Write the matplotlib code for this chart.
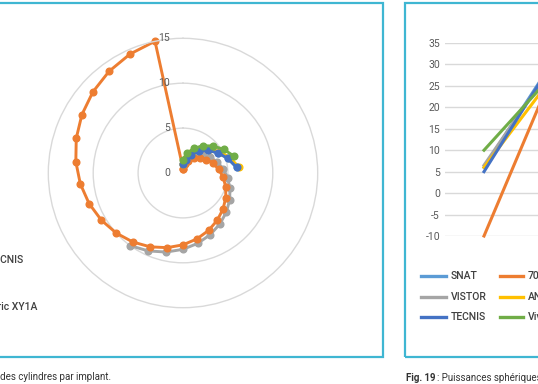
import numpy as np
import matplotlib
matplotlib.use('Agg')
import matplotlib.pyplot as plt
from matplotlib.lines import Line2D
from matplotlib.patches import Rectangle

W, H = 538, 384
plt.rcParams['font.family'] = ['Roboto', 'DejaVu Sans']

# ---------------- data ----------------
n_categories = 30
polar_names = ["SNAT", "709M", "VISTOR", "ANKORIS", "TECNIS", "Vivinex Toric XY1A"]
cyl_snat = [1.0, 1.5, 2.25, 3.0, 3.75, 4.5, 5.25, 6.0]
cyl_709m = [0.5, 1.0, 1.5, 2.0, 2.5, 3.0, 3.5, 4.0, 4.5, 5.0,
            5.5, 6.0, 6.5, 7.0, 7.5, 8.0, 8.5, 9.0, 9.5, 10.0,
            10.5, 11.0, 11.5, 12.0, 12.5, 13.0, 13.5, 14.0, 14.5, 15.0]
cyl_vistor = [1.0, 1.5, 2.0, 2.5, 3.0, 3.5, 4.0, 4.5, 5.0, 5.5,
              6.0, 6.5, 7.0, 7.5, 8.0, 8.5, 9.0, 9.5, 10.0]
cyl_ankoris = [1.0, 1.75, 2.5, 3.25, 4.0, 4.75, 5.5, 6.25]
cyl_tecnis = [1.0, 1.5, 2.25, 3.0, 3.75, 4.5, 5.25, 6.0]
cyl_vivinex = [1.5, 2.25, 3.0, 3.75, 4.5, 5.25, 6.0]
radial_ticks = [0, 5, 10, 15]

sphere_names = ["SNAT", "709M", "VISTOR", "ANKORIS", "TECNIS", "Vivinex"]
sph_snat = [6, 34]
sph_709m = [-10, 33]
sph_vistor = [6.5, 33]
sph_ankoris = [6, 30]
sph_tecnis = [5, 34]
sph_vivinex = [10, 30]
y_ticks = [-10, -5, 0, 5, 10, 15, 20, 25, 30, 35]

colors = {"SNAT": "#5B9BD5", "709M": "#ED7D31", "VISTOR": "#A5A5A5",
          "ANKORIS": "#FFC000", "TECNIS": "#4472C4", "Vivinex": "#70AD47"}
BORDER = "#3FB6D2"
TXT = "#404040"
TICK = "#595959"
GRID = "#D9D9D9"


def fx(x):
    return x / W


def fy(y):
    return 1 - y / H


fig = plt.figure(figsize=(W / 100, H / 100), dpi=100)
fig.patch.set_facecolor('white')

# panel borders
fig.add_artist(Rectangle((fx(-20), fy(357)), fx(383 + 20), (357 - 3) / H,
                         transform=fig.transFigure, fill=False,
                         edgecolor=BORDER, lw=1.6))
fig.add_artist(Rectangle((fx(405), fy(357)), fx(200), (357 - 3) / H,
                         transform=fig.transFigure, fill=False,
                         edgecolor=BORDER, lw=1.6))

# ---------------- polar (radar) chart ----------------
cx, cy, R = 183, 173, 134.7
axp = fig.add_axes([fx(cx - R), fy(cy + R), 2 * R / W, 2 * R / H], projection='polar')
axp.set_theta_zero_location('N')
axp.set_theta_direction(-1)
axp.set_ylim(0, 15)
axp.set_yticks([5, 10])
axp.set_yticklabels([])
axp.set_xticks([])
axp.yaxis.grid(True, color=GRID, lw=1.0)
axp.xaxis.grid(False)
axp.spines['polar'].set_color(GRID)
axp.spines['polar'].set_linewidth(1.0)
axp.set_facecolor('none')

step = 2 * np.pi / n_categories
polar_series = [("SNAT", cyl_snat, False), ("VISTOR", cyl_vistor, False),
                ("709M", cyl_709m, True), ("ANKORIS", cyl_ankoris, False),
                ("TECNIS", cyl_tecnis, False), ("Vivinex", cyl_vivinex, False)]
for name, vals, closed in polar_series:
    th = [i * step for i in range(len(vals))]
    rr = list(vals)
    if closed:
        th = th + [th[0] + 2 * np.pi]
        rr = rr + [rr[0]]
    axp.plot(th, rr, color=colors[name], lw=2.1, marker='o', ms=4.8,
             clip_on=False, solid_joinstyle='round')

for v in radial_ticks:
    axp.annotate(str(v), xy=(0, v), xycoords='data', xytext=(-9.5, 0),
                 textcoords='offset points', ha='right', va='center',
                 fontsize=7.5, color=TICK)

# left legend (cut by the image edge)
fig.text(fx(24), fy(260), "TECNIS", ha='right', va='center', fontsize=7.5,
         color=TXT, fontweight='medium')
fig.text(fx(37), fy(307), "Vivinex Toric XY1A", ha='right', va='center',
         fontsize=7.5, color=TXT, fontweight='medium')

# ---------------- line chart (spheres) ----------------
x0, x1, ytop, ybot = 445, 601, 43, 236
axl = fig.add_axes([fx(x0), fy(ybot), (x1 - x0) / W, (ybot - ytop) / H])
axl.set_xlim(0, 2)
axl.set_ylim(-10, 35)
axl.set_yticks(y_ticks)
axl.set_yticklabels([str(t) for t in y_ticks])
axl.set_xticks([])
axl.tick_params(axis='y', length=0, pad=3.6, labelsize=7.5, labelcolor=TICK)
for s in axl.spines.values():
    s.set_visible(False)
axl.yaxis.grid(True, color=GRID, lw=1.0)
axl.set_axisbelow(True)
axl.set_facecolor('none')
xs = [0.5, 1.5]
for name, vals in [("SNAT", sph_snat), ("709M", sph_709m), ("VISTOR", sph_vistor),
                   ("ANKORIS", sph_ankoris), ("TECNIS", sph_tecnis), ("Vivinex", sph_vivinex)]:
    axl.plot(xs, vals, color=colors[name], lw=2.2, clip_on=False)

# right legend
rows = [276, 296.5, 317]
leg = [("SNAT", "709M"), ("VISTOR", "ANKORIS"), ("TECNIS", "Vivinex")]
for yy, (a, b) in zip(rows, leg):
    fig.add_artist(Line2D([fx(421), fx(446)], [fy(yy), fy(yy)], transform=fig.transFigure,
                          color=colors[a], lw=2.4))
    fig.text(fx(451), fy(yy), a, ha='left', va='center', fontsize=7.5, color=TXT,
             fontweight='medium')
    fig.add_artist(Line2D([fx(499.5), fx(523)], [fy(yy), fy(yy)], transform=fig.transFigure,
                          color=colors[b], lw=2.4))
    fig.text(fx(527.5), fy(yy), b, ha='left', va='center', fontsize=7.5, color=TXT,
             fontweight='medium')

# captions
fig.text(fx(0.5), fy(377.5), "des cylindres par implant.", ha='left', va='center',
         fontsize=7, color="#333333")
t_fig = fig.text(fx(406), fy(378), "Fig. 19", ha='left', va='center', fontsize=7,
                 color="#333333", fontweight='bold')
fig.canvas.draw()
bb = t_fig.get_window_extent(renderer=fig.canvas.get_renderer())
fig.text(fx(bb.x1 + 1.5), fy(378), ": Puissances sphériques par implant.", ha='left',
         va='center', fontsize=7, color="#333333")

fig.savefig("out.png", dpi=100, facecolor='white')
